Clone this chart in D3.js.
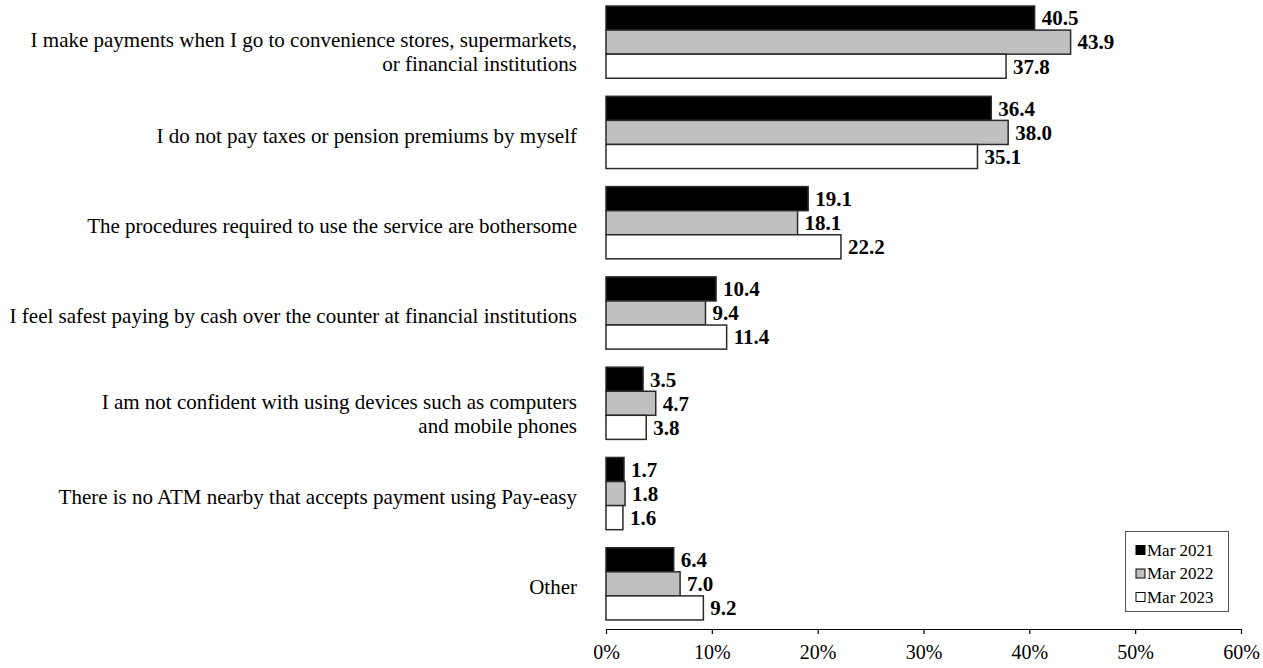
<!DOCTYPE html>
<html><head><meta charset="utf-8">
<script src="https://cdn.jsdelivr.net/npm/d3@7"></script>
<style>body{margin:0;background:#fff}svg{display:block}text{font-family:"Liberation Serif","Times New Roman",serif}</style>
</head><body><svg id="c" width="1263" height="668"></svg>
<script>
const categories = [
  ["I make payments when I go to convenience stores, supermarkets,", "or financial institutions"],
  ["I do not pay taxes or pension premiums by myself"],
  ["The procedures required to use the service are bothersome"],
  ["I feel safest paying by cash over the counter at financial institutions"],
  ["I am not confident with using devices such as computers", "and mobile phones"],
  ["There is no ATM nearby that accepts payment using Pay-easy"],
  ["Other"]
];
const seriesNames = ["Mar 2021", "Mar 2022", "Mar 2023"];
const mar2021 = [40.5, 36.4, 19.1, 10.4, 3.5, 1.7, 6.4];
const mar2022 = [43.9, 38.0, 18.1, 9.4, 4.7, 1.8, 7.0];
const mar2023 = [37.8, 35.1, 22.2, 11.4, 3.8, 1.6, 9.2];
const xTicks = [0, 10, 20, 30, 40, 50, 60];

const series = [mar2021, mar2022, mar2023];
const fills = ["#000000", "#c0c0c0", "#ffffff"];

const svg = d3.select("#c");
const x = d3.scaleLinear().domain([0, 60]).range([606, 1241]);
const y0 = d3.scaleBand().domain(d3.range(categories.length)).range([-3, 629]).paddingInner(0.2).paddingOuter(0.1);
const y1 = d3.scaleBand().domain(d3.range(series.length)).range([0, y0.bandwidth()]);

const g = svg.append("g");
series.forEach((vals, si) => {
  g.selectAll(null).data(vals).enter().append("rect")
    .attr("x", x(0))
    .attr("y", (d, i) => y0(i) + y1(si))
    .attr("width", d => x(d) - x(0))
    .attr("height", y1.bandwidth())
    .attr("fill", fills[si])
    .attr("stroke", "#2a2a2a")
    .attr("stroke-width", 1.5);
  g.selectAll(null).data(vals).enter().append("text")
    .attr("x", d => x(d) + 7)
    .attr("y", (d, i) => y0(i) + y1(si) + y1.bandwidth() / 2)
    .attr("dy", "0.35em")
    .attr("font-size", 21)
    .attr("font-weight", "bold")
    .text(d => d.toFixed(1));
});

// category labels
categories.forEach((lines, i) => {
  const cy = y0(i) + y0.bandwidth() / 2 + 3;
  const n = lines.length;
  const t = svg.append("text").attr("text-anchor", "end").attr("font-size", 21).attr("fill", "#000");
  lines.forEach((ln, k) => {
    t.append("tspan").attr("x", 577)
      .attr("y", cy + (k - (n - 1) / 2) * 24 + (n > 1 ? 7 : 0))
      .attr("dy", "0.35em").text(ln);
  });
});

// axis
const ax = svg.append("g").attr("transform", "translate(0,629)")
  .call(d3.axisBottom(x).tickValues(xTicks).tickFormat(d => d + "%").tickSize(5).tickPadding(11).tickSizeOuter(0));
ax.select(".domain").attr("stroke", "#000").attr("stroke-width", 1.2);
ax.selectAll(".tick line").attr("stroke", "#000").attr("stroke-width", 1.2);
ax.selectAll(".tick text").attr("font-size", 20).attr("font-family", "Liberation Serif, serif").attr("fill", "#000");

// legend
const lg = svg.append("g");
lg.append("rect").attr("x", 1125.5).attr("y", 531.5).attr("width", 103).attr("height", 80)
  .attr("fill", "#fff").attr("stroke", "#555").attr("stroke-width", 1);
seriesNames.forEach((nm, i) => {
  const cy = 550 + i * 23.5;
  lg.append("rect").attr("x", 1136).attr("y", cy - 4.5).attr("width", 9).attr("height", 9)
    .attr("fill", fills[i]).attr("stroke", "#000").attr("stroke-width", 1);
  lg.append("text").attr("x", 1147).attr("y", cy).attr("dy", "0.35em").attr("font-size", 17).text(nm);
});
</script></body></html>
